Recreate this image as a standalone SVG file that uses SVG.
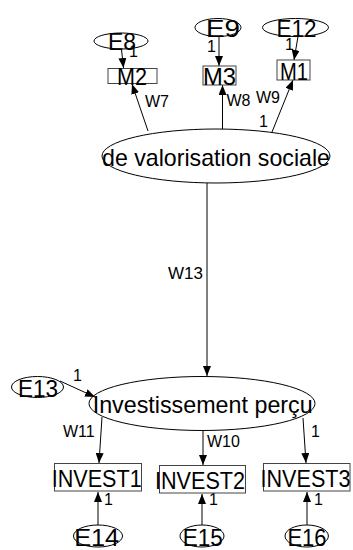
<svg xmlns="http://www.w3.org/2000/svg" width="353" height="550" viewBox="0 0 353 550">
<defs>
<marker id="ah" markerWidth="10" markerHeight="8" refX="10" refY="4" orient="auto" markerUnits="userSpaceOnUse">
<path d="M0,0 L10,4 L0,8 z" fill="#000"/>
</marker>
<style>
.e{fill:none;stroke:#000;stroke-width:1}
.r{fill:none;stroke:#444;stroke-width:1}
.t{font-family:"Liberation Sans",Arial,sans-serif;font-size:24px;fill:#000;text-anchor:middle}
.l{font-family:"Liberation Sans",Arial,sans-serif;font-size:16px;fill:#000}
.c{fill:none;stroke:#000;stroke-width:1;marker-end:url(#ah)}
</style>
</defs>
<rect width="353" height="550" fill="#fff"/>
<g id="connectors">
<line class="c" x1="121.5" y1="49.5" x2="123.5" y2="68"/>
<line class="c" x1="148" y1="131" x2="132" y2="84"/>
<line class="c" x1="219" y1="36.5" x2="219" y2="66"/>
<line class="c" x1="222.5" y1="129" x2="222.5" y2="85"/>
<line class="c" x1="298" y1="36.5" x2="294" y2="60"/>
<line class="c" x1="272" y1="132" x2="293" y2="80"/>
<line class="c" x1="207" y1="183" x2="207" y2="376"/>
<line class="c" x1="60" y1="381" x2="95" y2="397"/>
<line class="c" x1="102" y1="417" x2="99" y2="463"/>
<line class="c" x1="203" y1="431" x2="203" y2="465"/>
<line class="c" x1="303" y1="418" x2="306" y2="463"/>
<line class="c" x1="98" y1="525" x2="98" y2="492"/>
<line class="c" x1="202" y1="525" x2="202" y2="494"/>
<line class="c" x1="307" y1="525" x2="307" y2="492"/>
<text class="l" x="145" y="107">W7</text>
<text class="l" x="226.5" y="106">W8</text>
<text class="l" x="256" y="103">W9</text>
<text class="l" x="259" y="127">1</text>
<text class="l" x="129" y="57">1</text>
<text class="l" x="207" y="52">1</text>
<text class="l" x="285" y="50">1</text>
<text class="l" x="168" y="279" style="font-size:17px">W13</text>
<text class="l" x="73" y="381">1</text>
<text class="l" x="63" y="437">W11</text>
<text class="l" x="207" y="447">W10</text>
<text class="l" x="311" y="437">1</text>
<text class="l" x="104" y="505">1</text>
<text class="l" x="209" y="505">1</text>
<text class="l" x="314" y="505">1</text>
</g>
<g id="E8"><ellipse class="e" cx="121" cy="41" rx="27" ry="8"/><text class="t" x="122" y="49.5" textLength="28" lengthAdjust="spacingAndGlyphs">E8</text></g>
<g id="M2"><rect class="r" x="108" y="68.5" width="49" height="15"/><text class="t" x="132" y="85" textLength="30" lengthAdjust="spacingAndGlyphs">M2</text></g>
<g id="E9"><ellipse class="e" cx="218" cy="27.5" rx="23" ry="9"/><text class="t" x="223" y="36.5" textLength="34" lengthAdjust="spacingAndGlyphs">E9</text></g>
<g id="M3"><rect class="r" x="203" y="66" width="33" height="19"/><text class="t" x="219.5" y="85" textLength="33" lengthAdjust="spacingAndGlyphs">M3</text></g>
<g id="E12"><ellipse class="e" cx="295.5" cy="27.5" rx="33" ry="9"/><text class="t" x="296.5" y="36.5" textLength="40" lengthAdjust="spacingAndGlyphs">E12</text></g>
<g id="M1"><rect class="r" x="277" y="60" width="33" height="20"/><text class="t" x="294" y="80" textLength="28" lengthAdjust="spacingAndGlyphs">M1</text></g>
<g id="valorisation"><ellipse class="e" cx="216" cy="156" rx="114" ry="27"/><text class="t" x="216" y="166" textLength="228" lengthAdjust="spacingAndGlyphs">de valorisation sociale</text></g>
<g id="E13"><ellipse class="e" cx="37.5" cy="387" rx="26" ry="10.5"/><text class="t" x="38" y="396.5" textLength="40" lengthAdjust="spacingAndGlyphs">E13</text></g>
<g id="investissement"><ellipse class="e" cx="202" cy="403.5" rx="113" ry="27"/><text class="t" x="202.7" y="413" textLength="220" lengthAdjust="spacingAndGlyphs">Investissement perçu</text></g>
<g id="INVEST1"><rect class="r" x="54.5" y="463.5" width="87" height="27.5"/><text class="t" x="96.7" y="486.7" textLength="90" lengthAdjust="spacingAndGlyphs">INVEST1</text></g>
<g id="INVEST2"><rect class="r" x="159.5" y="465.5" width="86" height="27.5"/><text class="t" x="200" y="488.5" textLength="90" lengthAdjust="spacingAndGlyphs">INVEST2</text></g>
<g id="INVEST3"><rect class="r" x="263.5" y="463.5" width="86.5" height="27.5"/><text class="t" x="305.5" y="486.7" textLength="90" lengthAdjust="spacingAndGlyphs">INVEST3</text></g>
<g id="E14"><ellipse class="e" cx="98" cy="536" rx="24.5" ry="11"/><text class="t" x="96.7" y="546" textLength="45" lengthAdjust="spacingAndGlyphs">E14</text></g>
<g id="E15"><ellipse class="e" cx="202" cy="536" rx="22" ry="11"/><text class="t" x="202.7" y="546" textLength="40" lengthAdjust="spacingAndGlyphs">E15</text></g>
<g id="E16"><ellipse class="e" cx="306.7" cy="536" rx="21.7" ry="11"/><text class="t" x="307" y="546" textLength="39" lengthAdjust="spacingAndGlyphs">E16</text></g>
</svg>
